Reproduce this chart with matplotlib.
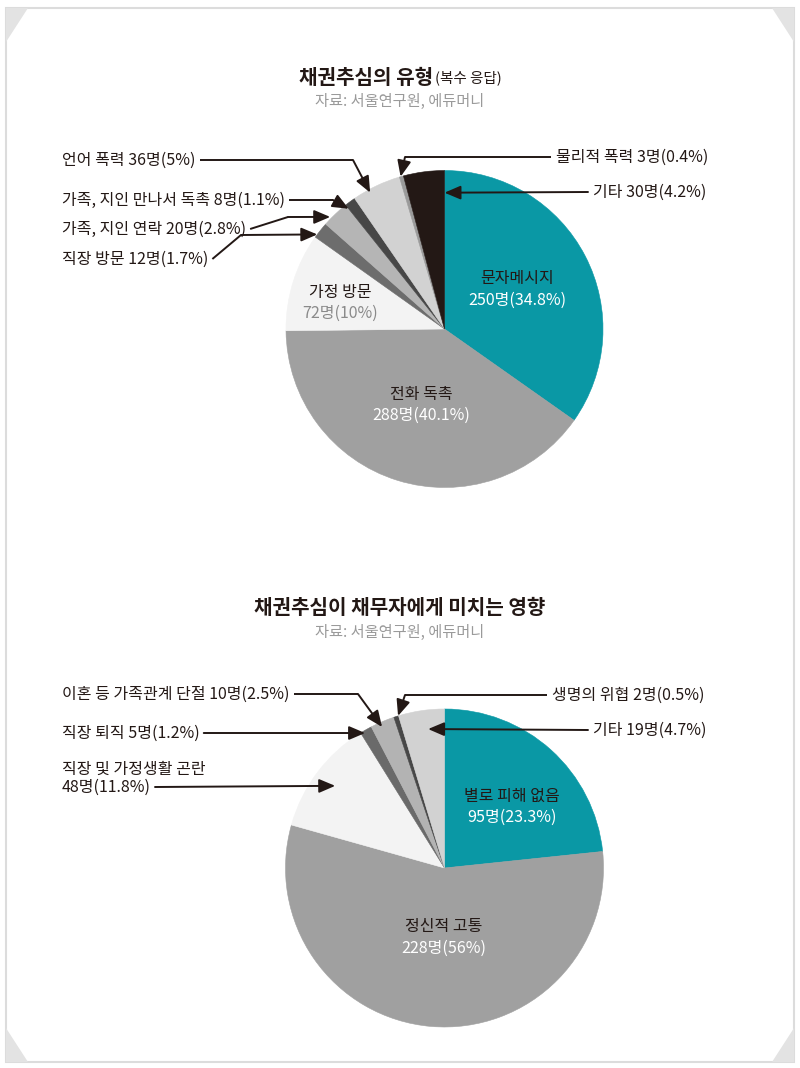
import math
import numpy as np
import matplotlib
matplotlib.use("Agg")
import matplotlib.pyplot as plt
from matplotlib.patches import Polygon, Rectangle

plt.rcParams['font.family'] = ['Noto Sans CJK KR', 'DejaVu Sans']
plt.rcParams['font.weight'] = 'medium'

W, H = 800, 1068
INK = "#231815"
TEAL = "#0a98a5"

# --- chart 1: 채권추심의 유형 ---
types = ["문자메시지", "전화 독촉", "가정 방문", "직장 방문", "가족, 지인 연락",
         "가족, 지인 만나서 독촉", "언어 폭력", "물리적 폭력", "기타"]
type_counts = [250, 288, 72, 12, 20, 8, 36, 3, 30]
type_pcts = ["34.8%", "40.1%", "10%", "1.7%", "2.8%", "1.1%", "5%", "0.4%", "4.2%"]
type_colors = [TEAL, "#a0a0a0", "#f3f3f3", "#6d6d6d", "#b5b5b5",
               "#474747", "#d2d2d2", "#9a9a9a", INK]

# --- chart 2: 채권추심이 채무자에게 미치는 영향 ---
effects = ["별로 피해 없음", "정신적 고통", "직장 및 가정생활 곤란", "직장 퇴직",
           "이혼 등 가족관계 단절", "생명의 위협", "기타"]
effect_counts = [95, 228, 48, 5, 10, 2, 19]
effect_pcts = ["23.3%", "56%", "11.8%", "1.2%", "2.5%", "0.5%", "4.7%"]
effect_colors = [TEAL, "#a0a0a0", "#f3f3f3", "#6a6a6a", "#b3b3b3", "#474747", "#d2d2d2"]


def Y(y):
    # pixel row (from top) -> data y
    return H - y


def wedge_point(counts, i, center, R, pos=0.5, rf=0.95):
    c = np.asarray(counts, float)
    frac = c / c.sum()
    start = np.concatenate([[0.0], np.cumsum(frac)[:-1]])
    t = math.radians(90 - 360 * (start[i] + pos * frac[i]))
    return center[0] + rf * R * math.cos(t), center[1] + rf * R * math.sin(t)


fig = plt.figure(figsize=(W / 100, H / 100), dpi=100)
ax = fig.add_axes([0, 0, 1, 1])
ax.set_xlim(0, W)
ax.set_ylim(0, H)
renderer = fig.canvas.get_renderer()


def text_extent(t):
    bb = t.get_window_extent(renderer)
    return bb.x0, bb.x1


def leader(pts, tip):
    xs = [p[0] for p in pts]
    ys = [p[1] for p in pts]
    if len(pts) > 1:
        ax.plot(xs, ys, color=INK, lw=1.4, solid_capstyle="butt", zorder=5)
    ax.annotate("", xy=tip, xytext=(xs[-1], ys[-1]),
                arrowprops=dict(arrowstyle="-|>,head_length=0.75,head_width=0.32",
                                color=INK, lw=1.4, shrinkA=0, shrinkB=0,
                                mutation_scale=13), zorder=6)


def side_label(txt, x, y, side, counts, i, center, R, pos, rf, elbow=None):
    t = ax.text(x, Y(y), txt, ha="left", va="center", fontsize=11.5, color=INK, zorder=7)
    x0, x1 = text_extent(t)
    sx = x1 + 4 if side == "left" else x0 - 5
    pts = [(sx, Y(y))]
    if elbow is not None:
        pts.append((elbow[0], Y(elbow[1])))
    tip = wedge_point(counts, i, center, R, pos, rf)
    leader(pts, tip)


def title(main, sub, y, src, src_y):
    t1 = ax.text(0, Y(y), main, ha="left", va="center", fontsize=14.5,
                 fontweight="bold", color=INK)
    a0, a1 = text_extent(t1)
    w1 = a1 - a0
    w2 = 0
    t2 = None
    if sub:
        t2 = ax.text(0, Y(y) - 1, sub, ha="left", va="center", fontsize=10.5, color=INK)
        b0, b1 = text_extent(t2)
        w2 = b1 - b0 + 2
    left = W / 2 - (w1 + w2) / 2
    t1.set_x(left)
    if t2 is not None:
        t2.set_x(left + w1 + 2)
    ax.text(W / 2, Y(src_y), src, ha="center", va="center", fontsize=11, color="#9a9a9a")


def pie(counts, colors, center, R):
    wedges, _ = ax.pie(counts, colors=colors, startangle=90, counterclock=False,
                       center=center, radius=R, wedgeprops=dict(linewidth=0.4))
    for w in wedges:
        w.set_edgecolor(w.get_facecolor())
    ax.set_xlim(0, W)
    ax.set_ylim(0, H)


# frame
ax.add_patch(Rectangle((6, Y(1062)), 788, 1054, facecolor="white", edgecolor="#dcdcdc",
                       lw=1.5, zorder=0))
tri = "#e3e3e3"
for poly in [[(6, 8), (28, 8), (6, 42)], [(794, 8), (772, 8), (794, 42)],
             [(6, 1062), (28, 1062), (6, 1028)], [(794, 1062), (772, 1062), (794, 1028)]]:
    ax.add_patch(Polygon([(px, Y(py)) for px, py in poly], closed=True,
                         facecolor=tri, edgecolor="none", zorder=1))

# ---------- pie 1 ----------
c1 = (444.5, Y(329))
R1 = 158.5
pie(type_counts, type_colors, c1, R1)

title("채권추심의 유형", "(복수 응답)", 77, "자료: 서울연구원, 에듀머니", 101)

ax.text(517, Y(278), types[0], ha="center", va="center", fontsize=11.5, color=INK)
ax.text(517, Y(300), f"{type_counts[0]}명({type_pcts[0]})", ha="center", va="center",
        fontsize=11.5, color="white")
ax.text(421, Y(394), types[1], ha="center", va="center", fontsize=11.5, color=INK)
ax.text(421, Y(415), f"{type_counts[1]}명({type_pcts[1]})", ha="center", va="center",
        fontsize=11.5, color="white")
ax.text(340, Y(292), types[2], ha="center", va="center", fontsize=11.5, color=INK)
ax.text(340, Y(313), f"{type_counts[2]}명({type_pcts[2]})", ha="center", va="center",
        fontsize=11.5, color="#8a8a8a")


def lab1(i):
    return f"{types[i]} {type_counts[i]}명({type_pcts[i]})"


side_label(lab1(6), 62, 160, "left", type_counts, 6, c1, R1, 0.33, 0.98, elbow=(353, 160))
side_label(lab1(5), 62, 200, "left", type_counts, 5, c1, R1, 0.0, 0.97, elbow=(333, 200))
side_label(lab1(4), 62, 229, "left", type_counts, 4, c1, R1, 0.3, 1.01, elbow=(288, 217))
side_label(lab1(3), 62, 259, "left", type_counts, 3, c1, R1, 0.2, 1.0, elbow=(241, 235))
side_label(lab1(7), 556, 157, "right", type_counts, 7, c1, R1, 0.3, 1.0, elbow=(405, 157))
side_label(lab1(8), 593, 192, "right", type_counts, 8, c1, R1, 1.0, 0.86)

# ---------- pie 2 ----------
c2 = (444.5, Y(868))
R2 = 159
pie(effect_counts, effect_colors, c2, R2)

title("채권추심이 채무자에게 미치는 영향", None, 607, "자료: 서울연구원, 에듀머니", 632)

ax.text(512, Y(796), effects[0], ha="center", va="center", fontsize=11.5, color=INK)
ax.text(512, Y(817), f"{effect_counts[0]}명({effect_pcts[0]})", ha="center", va="center",
        fontsize=11.5, color="white")
ax.text(444, Y(926), effects[1], ha="center", va="center", fontsize=11.5, color=INK)
ax.text(444, Y(948), f"{effect_counts[1]}명({effect_pcts[1]})", ha="center", va="center",
        fontsize=11.5, color="white")


def lab2(i):
    return f"{effects[i]} {effect_counts[i]}명({effect_pcts[i]})"


side_label(lab2(4), 62, 694, "left", effect_counts, 4, c2, R2, 0.4, 0.97, elbow=(358, 694))
side_label(lab2(3), 62, 733, "left", effect_counts, 3, c2, R2, 0.31, 0.985)
side_label(f"{effect_counts[2]}명({effect_pcts[2]})", 62, 787, "left", effect_counts, 2,
           c2, R2, 0.5, 0.86)
ax.text(62, Y(769), effects[2], ha="left", va="center", fontsize=11.5, color=INK)
side_label(lab2(5), 552, 695, "right", effect_counts, 5, c2, R2, 0.9, 1.0, elbow=(405, 695))
side_label(lab2(6), 593, 730, "right", effect_counts, 6, c2, R2, 0.6, 0.88)

ax.set_xlim(0, W)
ax.set_ylim(0, H)
ax.set_aspect("equal")
ax.axis("off")

fig.savefig("out.png", dpi=100, facecolor="white")
